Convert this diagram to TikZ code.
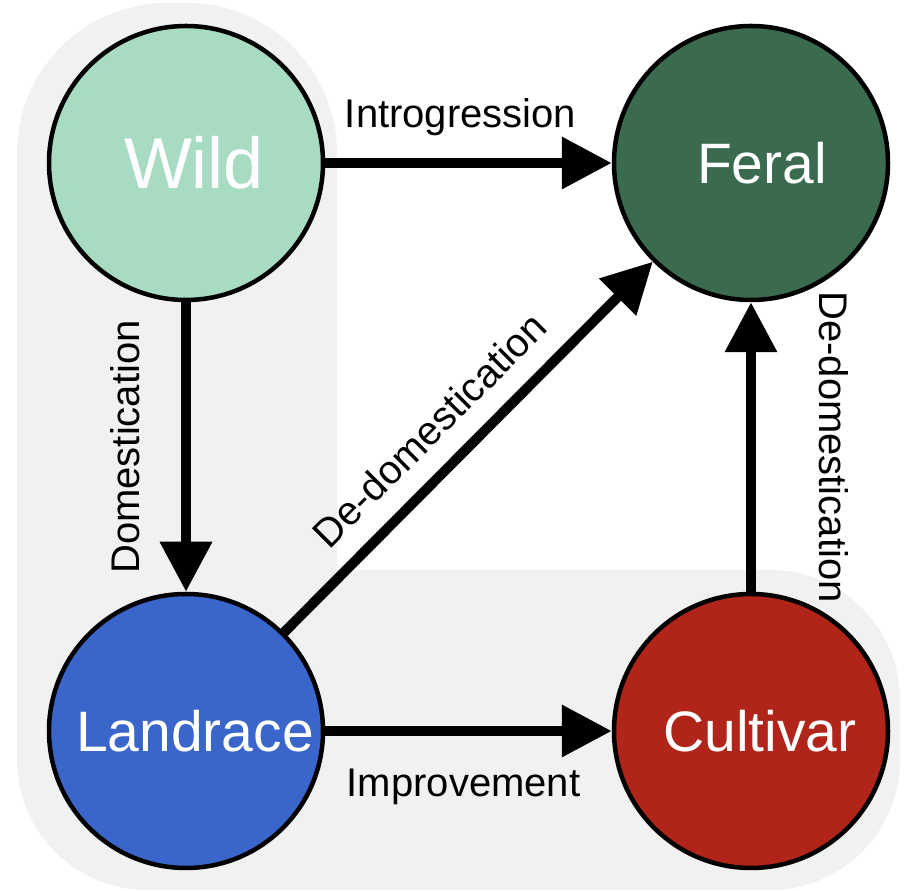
\documentclass[tikz,border=0pt]{standalone}
\usepackage{fontspec}
\setmainfont{Liberation Sans}
\usetikzlibrary{arrows.meta}

\definecolor{bggray}{HTML}{F1F1F1}
\definecolor{wildgreen}{HTML}{A8DCC2}
\definecolor{feralgreen}{HTML}{3B6B4F}
\definecolor{landblue}{HTML}{3A66CB}
\definecolor{cultred}{HTML}{B0241A}

\tikzset{
    state/.style={circle, draw=black, line width=4.5pt, minimum size=274pt, inner sep=0pt},
    statename/.style={text=white, font=\fontsize{57}{62}\selectfont, inner sep=0pt},
    flow/.style={line width=10pt, -{Triangle[length=50pt,width=50pt]}},
    flowlabel/.style={font=\fontsize{40}{48}\selectfont, inner sep=0pt, anchor=base},
}

\begin{document}
\begin{tikzpicture}[x=1pt, y=1pt]
    \useasboundingbox (0,0) rectangle (906,891);

    % shaded background
    \fill[bggray, rounded corners=150pt] (17,1) rectangle (337,888);
    \fill[bggray, rounded corners=130pt] (17,1) rectangle (900,321);

    \node[state, fill=wildgreen,
        label={[statename, font=\fontsize{72}{78}\selectfont, xshift=8pt]center:Wild}] (wild) at (186,728) {};
    \node[state, fill=feralgreen,
        label={[statename, xshift=11pt]center:Feral}] (feral) at (751,728) {};
    \node[state, fill=landblue,
        label={[statename, xshift=9pt]center:Landrace}] (landrace) at (186,160) {};
    \node[state, fill=cultred,
        label={[statename, xshift=9pt]center:Cultivar}] (cultivar) at (751,160) {};

    \draw[flow] (wild) -- node[flowlabel, xshift=-8pt, yshift=35pt] {Introgression} (feral);
    \draw[flow] (wild) -- node[flowlabel, xshift=-47pt, rotate=90] {Domestication} (landrace);
    \draw[flow] (landrace) -- node[flowlabel, xshift=-5pt, yshift=-66pt] {Improvement} (cultivar);
    \draw[flow] (cultivar) -- node[flowlabel, xshift=68pt, rotate=-90] {De-domestication} (feral);
    \draw[flow] (landrace) -- node[flowlabel, pos=0.47, xshift=-18pt, yshift=18pt, rotate=45] {De-domestication} (feral);
\end{tikzpicture}
\end{document}
